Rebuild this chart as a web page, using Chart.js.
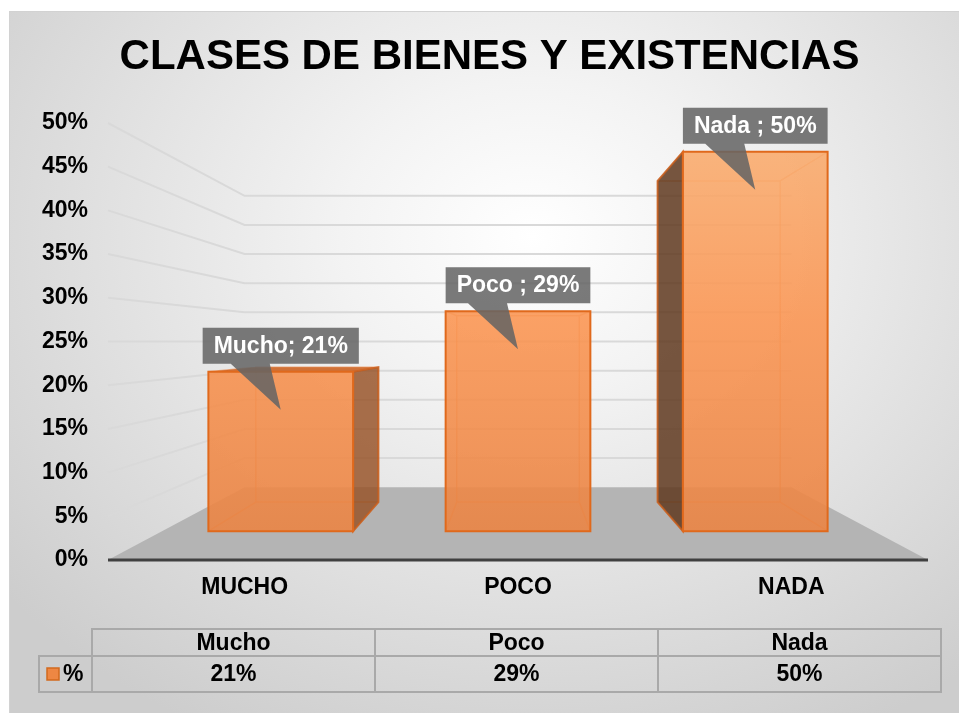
<!DOCTYPE html>
<html><head><meta charset="utf-8">
<script src="https://cdn.jsdelivr.net/npm/chart.js@4.4.0/dist/chart.umd.min.js"></script>
<style>
 html,body{margin:0;padding:0;background:#fff;}
 #bg{position:absolute;left:9px;top:11px;width:950px;height:702px;box-sizing:border-box;
   background:radial-gradient(ellipse 72% 80% at 55% 32%, #ffffff 0%, #f3f3f3 28%, #cdcdcd 100%);
   border-top:1px solid #d2d2d2;border-left:1px solid #d2d2d2;}
 #c{position:absolute;left:0;top:0;}
</style></head>
<body>
<div id="bg"></div>
<canvas id="c" width="959" height="713"></canvas>
<script>
var categories = ['Mucho', 'Poco', 'Nada'];
var axisLabels = ['MUCHO', 'POCO', 'NADA'];
var calloutNames = ['Mucho;', 'Poco ;', 'Nada ;'];
var values = [21, 29, 50];
var seriesName = '%';
var yMax = 50, yStep = 5;

var FONT = '"Liberation Sans", Arial, sans-serif';

// one point perspective towards the middle of the plot area
function proj(ca, x, y, k) {
  var vx = (ca.left + ca.right) / 2, vy = (ca.top + ca.bottom) / 2;
  return [vx + (x - vx) * k, vy + (y - vy) * k];
}
function quad(ctx, pts, fill, stroke) {
  ctx.beginPath();
  ctx.moveTo(pts[0][0], pts[0][1]);
  for (var i = 1; i < pts.length; i++) ctx.lineTo(pts[i][0], pts[i][1]);
  ctx.closePath();
  ctx.fillStyle = fill; ctx.fill();
  if (stroke) { ctx.strokeStyle = stroke; ctx.stroke(); }
}

var room = {
  id: 'room',
  beforeDatasetsDraw: function(chart) {
    var ctx = chart.ctx, ca = chart.chartArea, ys = chart.scales.y, kW = 0.667;
    var bl = proj(ca, ca.left, ca.bottom, kW), br = proj(ca, ca.right, ca.bottom, kW);
    ctx.save();
    quad(ctx, [[ca.left, ca.bottom], [ca.right, ca.bottom], br, bl], '#b4b4b4');
    ctx.strokeStyle = '#d9d9d9'; ctx.lineWidth = 2;
    ys.ticks.forEach(function(t) {
      if (t.value === 0) return;
      var py = ys.getPixelForValue(t.value);
      var a = proj(ca, ca.left, py, kW), b = proj(ca, ca.right, py, kW);
      ctx.beginPath(); ctx.moveTo(ca.left, py); ctx.lineTo(a[0], a[1]); ctx.lineTo(b[0], b[1]); ctx.stroke();
    });
    ctx.strokeStyle = '#404040'; ctx.lineWidth = 3;
    ctx.beginPath(); ctx.moveTo(ca.left, ca.bottom); ctx.lineTo(ca.right, ca.bottom); ctx.stroke();
    ctx.restore();
  }
};

var boxes = {
  id: 'boxes',
  afterDatasetsDraw: function(chart) {
    var ctx = chart.ctx, ca = chart.chartArea;
    var vx = (ca.left + ca.right) / 2, vy = (ca.top + ca.bottom) / 2;
    var kF = 0.868, kB = 0.735;
    var grad = ctx.createLinearGradient(0, ca.top, 0, ca.bottom);
    grad.addColorStop(0, 'rgba(249,176,116,0.9)');
    grad.addColorStop(0.45, 'rgba(250,150,84,0.9)');
    grad.addColorStop(1, 'rgba(232,130,66,0.9)');
    chart.getDatasetMeta(0).data.forEach(function(bar, i) {
      var p = bar.getProps(['x', 'y', 'base', 'width'], true);
      var l = p.x - p.width / 2, r = p.x + p.width / 2;
      var F = [proj(ca, l, p.y, kF), proj(ca, r, p.y, kF), proj(ca, r, p.base, kF), proj(ca, l, p.base, kF)];
      var B = [proj(ca, l, p.y, kB), proj(ca, r, p.y, kB), proj(ca, r, p.base, kB), proj(ca, l, p.base, kB)];
      ctx.save();
      ctx.lineWidth = 1.5;
      ctx.strokeStyle = 'rgba(235,110,30,0.5)';
      ctx.beginPath();
      ctx.moveTo(B[0][0], B[0][1]);
      for (var j = 1; j < 4; j++) ctx.lineTo(B[j][0], B[j][1]);
      ctx.closePath();
      for (j = 0; j < 4; j++) { ctx.moveTo(F[j][0], F[j][1]); ctx.lineTo(B[j][0], B[j][1]); }
      ctx.stroke();
      ctx.lineWidth = 2;
      if (l > vx) quad(ctx, [F[0], B[0], B[3], F[3]], 'rgba(95,56,30,0.85)', 'rgba(200,95,30,0.8)');
      if (r < vx) quad(ctx, [F[1], B[1], B[2], F[2]], 'rgba(150,80,36,0.82)', 'rgba(200,95,30,0.8)');
      if (p.y > vy) quad(ctx, [F[0], F[1], B[1], B[0]], 'rgba(205,100,35,0.9)');
      quad(ctx, F, grad, '#e0691c');
      ctx.restore();
    });
  }
};

var callouts = {
  id: 'callouts',
  afterDatasetsDraw: function(chart) {
    var ctx = chart.ctx, ca = chart.chartArea, kF = 0.868;
    ctx.save();
    ctx.font = 'bold 23px ' + FONT;
    chart.getDatasetMeta(0).data.forEach(function(bar, i) {
      var p = bar.getProps(['x', 'y'], true);
      var top = proj(ca, p.x, p.y, kF);
      var txt = calloutNames[i] + ' ' + values[i] + '%';
      var w = ctx.measureText(txt).width + 22, h = 36;
      var cx = top[0], bot = top[1] - 8, left = cx - w / 2, tp = bot - h;
      ctx.beginPath();
      ctx.moveTo(left, tp); ctx.lineTo(left + w, tp); ctx.lineTo(left + w, bot);
      ctx.lineTo(cx - 11, bot); ctx.lineTo(cx, bot + 46); ctx.lineTo(cx - 50, bot);
      ctx.lineTo(left, bot); ctx.closePath();
      ctx.fillStyle = 'rgba(100,100,100,0.86)';
      ctx.fill();
      ctx.fillStyle = '#fff'; ctx.textAlign = 'center'; ctx.textBaseline = 'middle';
      ctx.fillText(txt, cx, tp + h / 2 + 1);
    });
    ctx.restore();
  }
};

var table = {
  id: 'table',
  afterDraw: function(chart) {
    var ctx = chart.ctx;
    var x0 = 39, x1 = 92, x2 = 941, r0 = 629, r1 = 656, r2 = 692;
    var cw = (x2 - x1) / categories.length;
    ctx.save();
    ctx.strokeStyle = '#a9a9a9'; ctx.lineWidth = 2;
    ctx.strokeRect(x1, r0, x2 - x1, r1 - r0);
    ctx.strokeRect(x0, r1, x2 - x0, r2 - r1);
    ctx.beginPath();
    ctx.moveTo(x1, r1); ctx.lineTo(x1, r2);
    for (var i = 1; i < categories.length; i++) {
      ctx.moveTo(x1 + cw * i, r0); ctx.lineTo(x1 + cw * i, r2);
    }
    ctx.stroke();
    ctx.font = 'bold 23px ' + FONT; ctx.fillStyle = '#000';
    ctx.textAlign = 'center'; ctx.textBaseline = 'middle';
    categories.forEach(function(c, i) {
      ctx.fillText(c, x1 + cw * (i + 0.5), (r0 + r1) / 2 + 1);
      ctx.fillText(values[i] + '%', x1 + cw * (i + 0.5), (r1 + r2) / 2 + 1);
    });
    ctx.fillStyle = 'rgba(242,128,52,0.9)'; ctx.strokeStyle = '#d2691e'; ctx.lineWidth = 1.5;
    ctx.fillRect(47, 668, 12, 12); ctx.strokeRect(47, 668, 12, 12);
    ctx.fillStyle = '#000'; ctx.textAlign = 'left';
    ctx.fillText(seriesName, 63, (r1 + r2) / 2 + 1);
    ctx.restore();
  }
};

new Chart(document.getElementById('c'), {
  type: 'bar',
  data: {
    labels: axisLabels,
    datasets: [{
      label: seriesName,
      data: values,
      backgroundColor: 'rgba(0,0,0,0)',
      borderWidth: 0,
      barPercentage: 0.61,
      categoryPercentage: 1
    }]
  },
  options: {
    responsive: false,
    animation: false,
    layout: { padding: { left: 20, right: 0, top: 0, bottom: 0 } },
    plugins: {
      legend: { display: false },
      tooltip: { enabled: false },
      title: {
        display: true,
        text: 'CLASES DE BIENES Y EXISTENCIAS',
        color: '#000',
        font: { family: FONT, size: 42, weight: 'bold', lineHeight: 1.2 },
        padding: { top: 32, bottom: 40.6 }
      }
    },
    scales: {
      x: {
        grid: { display: false, drawTicks: false },
        border: { display: false },
        ticks: { color: '#000', font: { family: FONT, size: 23, weight: 'bold' }, padding: 14, maxRotation: 0 },
        afterFit: function(s) { s.height = 153; }
      },
      y: {
        min: 0, max: yMax,
        grid: { display: false, drawTicks: false },
        border: { display: false },
        ticks: {
          stepSize: yStep, color: '#000', padding: 20,
          font: { family: FONT, size: 23, weight: 'bold' },
          callback: function(v) { return v + '%'; }
        },
        afterFit: function(s) { s.width = 88; }
      },
      yR: {
        type: 'linear', position: 'right',
        grid: { display: false, drawTicks: false },
        border: { display: false },
        ticks: { display: false },
        afterFit: function(s) { s.width = 31; }
      }
    }
  },
  plugins: [room, boxes, callouts, table]
});
</script>
</body></html>
